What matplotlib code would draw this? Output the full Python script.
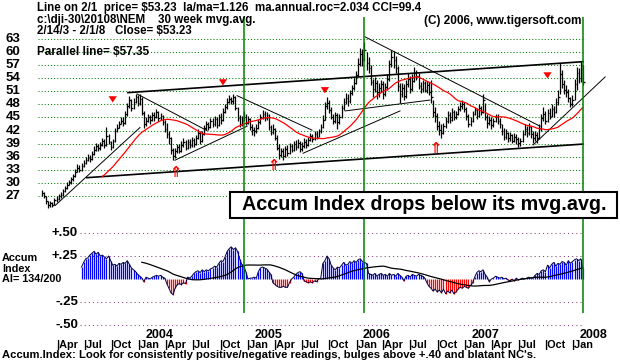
import numpy as np
import pandas as pd
import matplotlib
matplotlib.use('Agg')
import matplotlib.pyplot as plt
from matplotlib.patches import Rectangle
from matplotlib.transforms import blended_transform_factory as blend

plt.rcParams['font.family'] = ['Liberation Sans', 'DejaVu Sans']
plt.rcParams['font.weight'] = 'bold'

# weekly bars NEM, 2/14/2003 .. 2/1/2008 (261 weeks)
start = pd.Timestamp('2003-02-14')

cl = [27.6, 27.0, 25.8, 24.9, 25.3, 25.0, 26.0, 26.4, 26.9, 27.3, 28.2, 28.8, 29.6,
      30.1, 30.8, 31.5, 32.6, 33.5, 33.0, 33.9, 34.6, 35.2, 35.8, 35.4, 36.7, 37.6,
      38.4, 37.9, 38.8, 39.6, 38.7, 40.8, 39.4, 38.3, 39.5, 41.8, 42.7, 43.5, 44.3,
      43.8, 45.7, 47.6, 48.9, 47.2, 48.6, 49.7, 48.4, 49.3, 46.1, 43.6, 44.2, 45.1,
      44.5, 45.6, 45.0, 46.2, 44.8, 45.4, 44.0, 42.3, 41.2, 40.3, 37.5, 36.1, 37.2,
      38.3, 37.4, 38.8, 39.3, 38.1, 39.4, 38.6, 39.8, 38.9, 40.2, 41.5, 39.6, 41.2,
      42.6, 43.4, 42.8, 44.1, 43.5, 44.6, 43.2, 45.1, 44.5, 46.3, 47.4, 48.6, 49.3,
      48.8, 49.6, 47.2, 44.9, 43.6, 44.5, 45.2, 43.8, 44.6, 42.9, 42.1, 41.8, 42.7,
      43.9, 45.1, 45.9, 44.8, 45.5, 42.8, 41.6, 42.3, 40.4, 38.1, 36.3, 37.4, 36.2,
      37.8, 36.9, 38.4, 37.6, 38.9, 38.2, 39.1, 37.7, 38.5, 39.4, 38.6, 39.8, 40.7,
      40.1, 41.3, 40.6, 41.8, 42.9, 44.5, 47.6, 48.3, 46.8, 45.2, 44.3, 45.6, 43.9,
      45.1, 47.2, 48.6, 49.5, 48.7, 50.6, 51.8, 52.9, 54.8, 57.3, 59.6, 58.4, 60.5,
      57.6, 56.4, 53.2, 51.6, 52.8, 50.9, 51.7, 52.6, 50.4, 52.1, 53.8, 57.2, 58.9,
      58.1, 56.3, 52.2, 50.3, 51.8, 49.9, 52.6, 53.8, 51.5, 53.4, 55.2, 54.6, 52.3,
      51.6, 52.8, 51.4, 52.5, 50.9, 49.6, 46.2, 45.3, 43.1, 42.2, 41.5, 43.0, 44.2,
      45.6, 44.4, 46.3, 45.2, 45.8, 46.9, 47.6, 48.1, 47.0, 45.3, 43.6, 44.1, 45.8,
      46.7, 45.4, 47.2, 46.3, 48.9, 45.1, 43.8, 44.5, 43.2, 44.1, 45.0, 44.3, 43.6,
      41.8, 40.6, 41.4, 40.2, 40.9, 39.7, 40.5, 40.1, 39.2, 39.6, 41.2, 42.4, 41.5,
      42.8, 41.3, 40.2, 41.0, 40.3, 42.6, 44.8, 45.9, 44.2, 46.1, 45.4, 47.0, 46.2,
      48.6, 49.8, 54.9, 52.7, 51.3, 50.8, 49.5, 48.2, 49.0, 52.6, 55.1, 54.0, 56.2, 53.2]

hi = [28.3, 28.0, 27.1, 25.9, 25.8, 25.7, 26.5, 26.9, 27.4, 27.8, 28.7, 29.3, 30.2,
      30.7, 31.3, 32.1, 33.2, 34.3, 34.0, 34.5, 35.2, 35.9, 36.6, 36.3, 37.3, 38.4,
      39.2, 38.9, 39.4, 40.3, 40.1, 42.8, 41.2, 39.6, 40.1, 42.5, 43.4, 44.2, 45.1,
      45.0, 46.5, 48.4, 49.9, 49.2, 49.4, 50.5, 50.1, 50.4, 49.6, 46.5, 45.0, 45.8,
      45.5, 46.3, 46.2, 46.9, 46.5, 46.1, 45.6, 44.4, 43.7, 42.0, 40.6, 38.1, 38.0,
      39.0, 38.9, 39.5, 40.2, 39.8, 40.1, 40.0, 40.5, 40.3, 41.0, 42.4, 41.9, 42.0,
      43.3, 44.2, 44.0, 44.8, 44.9, 45.3, 45.0, 45.9, 46.1, 47.2, 48.1, 49.5, 50.2,
      49.8, 50.3, 49.9, 47.5, 45.6, 45.3, 46.4, 45.7, 45.3, 44.8, 43.5, 42.9, 43.5,
      44.6, 45.8, 46.7, 46.4, 46.2, 45.8, 43.3, 43.4, 42.6, 41.0, 38.9, 38.1, 37.9,
      38.5, 38.6, 39.2, 39.0, 39.6, 39.8, 40.1, 39.6, 39.3, 40.2, 40.0, 40.6, 41.5,
      41.2, 42.0, 41.9, 42.4, 43.6, 45.6, 48.6, 49.7, 49.0, 47.3, 45.8, 46.3, 46.0,
      45.9, 47.9, 49.4, 50.6, 50.3, 51.3, 52.5, 54.1, 55.6, 58.6, 61.0, 60.8, 62.3,
      60.1, 58.9, 57.0, 53.8, 54.3, 53.5, 52.9, 53.7, 53.4, 53.0, 54.9, 58.3, 60.5,
      60.2, 59.0, 56.8, 52.9, 53.0, 52.6, 53.5, 55.2, 54.6, 54.9, 56.6, 56.0, 55.1,
      53.2, 53.6, 53.4, 53.3, 53.1, 53.6, 48.9, 47.4, 46.0, 44.3, 43.4, 43.8, 45.2,
      46.5, 46.2, 47.1, 46.8, 46.6, 47.7, 48.5, 49.0, 48.6, 47.4, 45.8, 45.0, 46.6,
      47.5, 47.1, 48.0, 47.6, 50.5, 48.4, 45.8, 45.3, 45.0, 44.9, 45.9, 45.7, 44.8,
      43.4, 42.5, 42.3, 41.7, 41.6, 41.3, 41.4, 41.2, 40.5, 40.3, 42.1, 43.5, 43.0,
      43.7, 43.1, 41.9, 41.8, 41.6, 43.4, 45.7, 47.3, 46.5, 47.0, 47.1, 48.2, 47.6,
      49.4, 51.3, 57.5, 55.8, 53.6, 52.4, 51.6, 49.7, 50.2, 53.9, 56.6, 56.3, 57.8, 57.0]

lo = [27.0, 26.6, 25.2, 24.3, 24.5, 24.4, 24.9, 25.7, 26.1, 26.6, 27.1, 28.0, 28.6,
      29.4, 29.8, 30.5, 31.3, 32.4, 32.5, 32.8, 33.6, 34.4, 35.0, 34.7, 35.2, 36.5,
      37.3, 37.2, 37.6, 38.5, 38.0, 38.4, 38.9, 37.6, 38.0, 39.4, 41.6, 42.6, 43.5,
      43.0, 43.6, 45.3, 47.1, 46.6, 46.9, 48.3, 47.7, 47.9, 45.6, 42.5, 43.1, 43.9,
      43.5, 44.2, 44.3, 44.8, 44.3, 44.4, 43.2, 41.6, 40.3, 38.9, 36.7, 35.2, 35.8,
      36.8, 36.9, 37.1, 38.2, 37.5, 37.8, 38.1, 38.3, 38.3, 38.6, 40.0, 38.9, 39.4,
      40.9, 42.2, 42.1, 42.5, 42.9, 43.1, 42.6, 43.0, 43.4, 44.2, 46.1, 47.0, 48.3,
      48.0, 48.2, 46.7, 44.1, 42.9, 43.1, 44.2, 43.2, 43.4, 42.1, 41.0, 40.8, 41.4,
      42.4, 43.6, 44.7, 44.3, 44.4, 42.2, 40.9, 41.3, 39.8, 37.6, 35.4, 36.0, 35.3,
      35.9, 36.2, 36.6, 37.0, 37.3, 37.6, 37.9, 37.1, 37.3, 38.1, 38.0, 38.4, 39.6,
      39.4, 39.8, 40.0, 40.5, 41.5, 42.7, 44.4, 46.9, 46.0, 44.6, 43.6, 43.8, 42.4,
      43.4, 44.8, 46.8, 48.1, 47.6, 48.4, 50.1, 51.3, 52.6, 54.5, 56.9, 56.8, 57.9,
      55.8, 55.2, 52.4, 49.8, 50.9, 49.2, 49.6, 50.9, 49.3, 49.9, 51.4, 53.3, 56.6,
      56.4, 55.2, 51.1, 48.4, 49.6, 49.0, 49.5, 51.9, 50.7, 51.0, 53.1, 53.6, 51.5,
      50.7, 50.9, 50.8, 50.6, 50.1, 48.4, 45.1, 44.0, 42.2, 41.0, 40.4, 41.2, 42.6,
      43.7, 43.8, 44.1, 44.5, 44.6, 45.5, 46.4, 46.9, 46.2, 44.4, 42.8, 43.0, 43.9,
      45.6, 44.6, 45.0, 45.5, 46.1, 44.4, 42.6, 43.2, 42.4, 42.8, 43.9, 43.5, 42.7,
      41.0, 39.8, 40.1, 39.4, 39.7, 39.1, 39.3, 38.9, 38.2, 38.5, 39.4, 41.0, 40.6,
      41.0, 40.4, 39.2, 39.5, 39.1, 40.1, 42.0, 44.2, 43.5, 43.9, 44.6, 45.1, 45.2,
      46.1, 47.8, 50.5, 51.8, 50.3, 49.7, 48.5, 47.4, 47.6, 48.9, 51.4, 52.8, 53.1, 52.4]

# Accumulation index, weekly, starts at week 19
accum_start = 19
accum = [0.13, 0.18, 0.22, 0.23, 0.26, 0.28, 0.30, 0.27, 0.29, 0.25, 0.26,
         0.24, 0.22, 0.25, 0.20, 0.15, 0.16, 0.14, 0.17, 0.16, 0.18, 0.17,
         0.20, 0.16, 0.12, 0.10, 0.08, 0.05, 0.03, 0.01, -0.03, 0.02, 0.01,
         0.00, 0.02, 0.03, 0.04, 0.03, 0.04, 0.02, 0.01, -0.05, -0.10, -0.15,
         -0.17, -0.10, -0.06, -0.05, -0.06, -0.04, -0.05, 0.02, 0.01, 0.03, 0.06,
         0.08, 0.09, 0.07, 0.10, 0.08, 0.10, 0.09, 0.11, 0.12, 0.14, 0.13,
         0.17, 0.20, 0.19, 0.24, 0.30, 0.33, 0.35, 0.32, 0.34, 0.30, 0.22,
         0.16, 0.14, 0.08, 0.00, 0.01, 0.01, 0.02, 0.01, 0.08, 0.12, 0.13,
         0.12, 0.11, 0.08, 0.05, -0.04, -0.06, -0.08, -0.09, -0.09, -0.08, -0.09,
         -0.09, -0.04, 0.00, 0.02, 0.05, 0.07, 0.08, 0.06, -0.02, -0.03, -0.04,
         -0.03, -0.04, -0.02, -0.03, 0.00, 0.01, 0.17, 0.20, 0.25, 0.22, 0.15,
         0.12, 0.10, 0.13, 0.12, 0.15, 0.18, 0.15, 0.16, 0.19, 0.17, 0.20,
         0.18, 0.21, 0.22, 0.19, 0.18, 0.17, 0.06, 0.05, 0.04, 0.06, 0.03,
         0.05, 0.06, 0.04, 0.05, 0.03, 0.06, 0.04, 0.05, 0.03, 0.06, 0.04,
         0.02, -0.02, 0.03, 0.04, 0.02, 0.05, 0.04, 0.03, 0.05, 0.04, 0.03,
         0.01, -0.04, -0.08, -0.10, -0.13, -0.11, -0.14, -0.12, -0.15, -0.11, -0.16,
         -0.13, -0.15, -0.12, -0.16, -0.14, -0.11, -0.09, -0.10, -0.08, -0.09, -0.10,
         -0.07, -0.04, 0.02, 0.07, 0.09, 0.08, 0.10, 0.05, 0.02, -0.03, 0.00,
         0.01, 0.03, 0.02, 0.01, 0.02, 0.00, 0.01, -0.01, -0.02, 0.00, -0.02,
         0.01, -0.01, 0.00, 0.01, 0.00, 0.01, 0.02, 0.01, 0.01, 0.04, 0.06,
         0.05, 0.09, 0.10, 0.08, 0.15, 0.12, 0.16, 0.18, 0.14, 0.17, 0.16,
         0.19, 0.18, 0.15, 0.20, 0.17, 0.19, 0.21, 0.22, 0.20, 0.22, 0.12]

price_ticks = [63, 60, 57, 54, 51, 48, 45, 42, 39, 36, 33, 30, 27]
accum_ticks = [0.50, 0.25, -0.25, -0.50]
accum_tick_labels = ['+.50', '+.25', '-.25', '-.50']

# trendlines (week, price) pairs
trend_thick = [((41.3, 50.7), (260.1, 57.8)),
               ((21.6, 31.2), (260.1, 38.9))]
trend_thin = [((6.3, 24.8), (47.1, 42.7)),
              ((45.7, 50.4), (79.3, 42.0)),
              ((63.9, 35.2), (98.6, 43.0)),
              ((93.8, 50.0), (129.8, 42.1)),
              ((125.5, 36.8), (172.1, 46.5)),
              ((145.7, 46.5), (186.5, 49.0)),
              ((155.3, 63.5), (239.4, 43.0)),
              ((236.1, 38.7), (270.7, 54.3))]

sell_wk = [34, 87, 136, 243]
sell_top = [49.8, 53.7, 51.9, 55.3]
buy_wk = [64, 111, 189]
buy_lvl = [32.4, 34.1, 38.0]
green_wk = [97, 155, 260]

W, H = 620, 361
def fx(p):
    return p / W
def fy(p):
    return 1 - p / H

wk = np.arange(len(cl))
ma = pd.Series(cl).rolling(30).mean()
aw = np.arange(accum_start, accum_start + len(accum))
acc = np.array(accum)
acc_ma = pd.Series(accum).rolling(30).mean()

fig = plt.figure(figsize=(6.2, 3.61), dpi=100)
xl = (-1.92, 274.0)

# price panel
ax = fig.add_axes([fx(38), fy(212), fx(612) - fx(38), (212 - 33) / H])
ax.set_xlim(*xl)
ax.set_ylim(23.32, 64.38)
ax.axis('off')
for v in price_ticks:
    ax.hlines(v, xl[0], 261, colors='#008000', linestyles=(0, (1, 2)), lw=0.75)
    ax.text(fx(6), v, str(v), transform=blend(fig.transFigure, ax.transData),
            ha='left', va='center', fontsize=9.5)

for (a, b) in trend_thick:
    ax.plot([a[0], b[0]], [a[1], b[1]], color='black', lw=1.2)
for (a, b) in trend_thin:
    ax.plot([a[0], b[0]], [a[1], b[1]], color='black', lw=0.7)

ax.vlines(wk, lo, hi, colors='black', lw=0.9)
ax.hlines(cl, wk, wk + 0.8, colors='black', lw=0.9)
ax.plot(wk, ma, color='red', lw=0.9)

for w, t in zip(sell_wk, sell_top):
    ax.annotate('', xy=(w, t - 2.0), xytext=(w, t),
                arrowprops=dict(arrowstyle='simple,head_width=0.6,head_length=0.45,tail_width=0.3',
                                color='red', lw=0))
for w, v in zip(buy_wk, buy_lvl):
    ax.text(w, v, '\u21d1', color='red', ha='center', va='center', fontsize=10.5,
            family='DejaVu Sans')

# accumulation index panel
ax2 = fig.add_axes([fx(38), fy(330), fx(612) - fx(38), (330 - 225) / H])
ax2.set_xlim(*xl)
ax2.set_ylim(-0.554, 0.587)
ax2.axis('off')
for v, s in zip(accum_ticks, accum_tick_labels):
    ax2.hlines(v, 18.3, 260.5, colors='#804080', linestyles=(0, (1, 3)), lw=0.75)
    ax2.text(fx(78), v, s, transform=blend(fig.transFigure, ax2.transData),
             ha='right', va='center', fontsize=9.5)
pos = acc >= 0
ax2.vlines(aw[pos], 0, acc[pos], colors='#0000ff', lw=0.9)
ax2.vlines(aw[~pos], acc[~pos], 0, colors='#ff0000', lw=0.9)
ax2.plot(aw, acc, color='#000040', lw=0.7)
ax2.plot(aw, acc_ma, color='black', lw=0.9)

# green signal verticals across both panels
ax3 = fig.add_axes([fx(38), fy(313), fx(612) - fx(38), (313 - 17) / H])
ax3.set_xlim(*xl)
ax3.set_ylim(0, 1)
ax3.axis('off')
ax3.patch.set_alpha(0)
ax3.vlines(green_wk, 0, 1, colors='#008000', lw=1.1)

# headers
fig.text(fx(37), fy(7.5), 'Line on 2/1  price= $53.23  la/ma=1.126  ma.annual.roc=2.034 CCI=99.4',
         ha='left', va='center', fontsize=8.3)
fig.text(fx(37), fy(20), 'c:\\dji-30\\20108\\NEM    30 week mvg.avg.',
         ha='left', va='center', fontsize=8.3)
fig.text(fx(582), fy(21), '(C) 2006, www.tigersoft.com', ha='right', va='center', fontsize=8.5)
fig.text(fx(37), fy(31), '2/14/3 - 2/1/8   Close= $53.23', ha='left', va='center', fontsize=8.3)
fig.text(fx(37), fy(52), 'Parallel line= $57.35', ha='left', va='center', fontsize=8.5)

# message box
fig.add_artist(Rectangle((fx(230), fy(218)), fx(617) - fx(230), (218 - 192) / H,
                         transform=fig.transFigure, facecolor='white', edgecolor='black',
                         lw=1.5, zorder=10))
fig.text(fx(242), fy(205), 'Accum Index drops below its mvg.avg.', ha='left', va='center',
         fontsize=14.2, zorder=11)

# accum labels
fig.text(fx(2), fy(258), 'Accum', ha='left', va='center', fontsize=7.8)
fig.text(fx(2), fy(268.5), 'Index', ha='left', va='center', fontsize=7.8)
fig.text(fx(2), fy(279), 'AI= 134/200', ha='left', va='center', fontsize=7.8)

# date axis
tx = blend(ax2.transData, fig.transFigure)
for d in pd.date_range('2003-04-01', '2008-01-01', freq='QS'):
    w = (d - start).days / 7
    ax2.text(w, fy(345), '|' + d.strftime('%b'), transform=tx, ha='left', va='center',
             fontsize=7.8, clip_on=False)
    if d.month == 1:
        ax2.text(w + 4, fy(334.5), str(d.year), transform=tx, ha='left', va='center',
                 fontsize=9, clip_on=False)

fig.text(fx(2), fy(355.5), "Accum.Index: Look for consistently positive/negative readings, "
         "bulges above +.40 and blatant NC's.", ha='left', va='center', fontsize=8.1)

fig.savefig('out.png', dpi=100, facecolor='white')
